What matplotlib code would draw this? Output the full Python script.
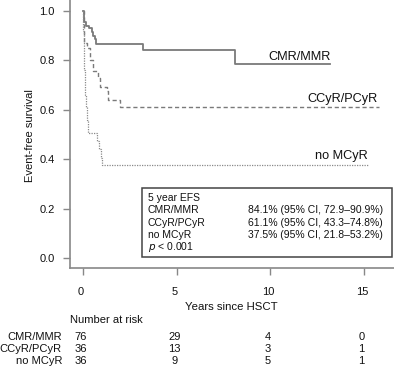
import matplotlib
matplotlib.use("Agg")
import matplotlib.pyplot as plt
from matplotlib.patches import Rectangle
from matplotlib.transforms import blended_transform_factory, ScaledTranslation

plt.rcParams['font.family'] = ['Liberation Sans', 'DejaVu Sans']

# --- Kaplan-Meier step data (time in years, survival) ---
cmr_t = [0, 0.05, 0.15, 0.3, 0.45, 0.55, 0.65, 0.7, 3.2, 8.1, 13.2]
cmr_s = [1.0, 0.955, 0.94, 0.93, 0.915, 0.90, 0.885, 0.867, 0.842, 0.785, 0.785]

ccyr_t = [0, 0.03, 0.05, 0.2, 0.37, 0.55, 0.82, 0.91, 1.27, 1.35, 1.98, 15.8]
ccyr_s = [1.0, 0.92, 0.87, 0.85, 0.80, 0.757, 0.73, 0.694, 0.674, 0.64, 0.611, 0.611]

nomcyr_t = [0, 0.02, 0.04, 0.07, 0.1, 0.16, 0.22, 0.28, 0.73, 0.85, 0.96, 1.02, 15.2]
nomcyr_s = [1.0, 0.92, 0.85, 0.76, 0.66, 0.61, 0.56, 0.507, 0.472, 0.44, 0.406, 0.378, 0.378]

groups = ["CMR/MMR", "CCyR/PCyR", "no MCyR"]
efs_text = ["84.1% (95% CI, 72.9\u201390.9%)",
            "61.1% (95% CI, 43.3\u201374.8%)",
            "37.5% (95% CI, 21.8\u201353.2%)"]

risk_times = [0, 5, 10, 15]
risk_cmr = [76, 29, 4, 0]
risk_ccyr = [36, 13, 3, 1]
risk_nomcyr = [36, 9, 5, 1]

W, H = 394, 369
fig = plt.figure(figsize=(W / 100, H / 100), dpi=100)
ax = fig.add_axes([70 / W, 1 - 268 / H, 1 - 70 / W, 268 / H])

line_col = "#7a7a7a"
ax.step(cmr_t, cmr_s, where="post", color=line_col, lw=1.3)
ax.step(ccyr_t, ccyr_s, where="post", color=line_col, lw=1.0, linestyle=(0, (3, 2)))
ax.step(nomcyr_t, nomcyr_s, where="post", color="#8a8a8a", lw=0.9, linestyle=(0, (1, 1)))

# curve labels
ax.text(cmr_t[-1], 0.80, groups[0], ha="right", va="baseline", fontsize=9.2, color="#111")
ax.text(ccyr_t[-1] - 0.1, 0.632, groups[1], ha="right", va="baseline", fontsize=9.2, color="#111")
ax.text(nomcyr_t[-1], 0.399, groups[2], ha="right", va="baseline", fontsize=9.2, color="#111")

ax.set_xlim(-0.7, 16.6)
ax.set_ylim(-0.04, 1.044)
ax.set_xticks([0, 5, 10, 15])
ax.set_yticks([0.0, 0.2, 0.4, 0.6, 0.8, 1.0])
ax.set_yticklabels(["0.0", "0.2", "0.4", "0.6", "0.8", "1.0"])
ax.spines["top"].set_visible(False)
ax.spines["right"].set_visible(False)
for s in ["left", "bottom"]:
    ax.spines[s].set_color("#888888")
    ax.spines[s].set_linewidth(1.2)
ax.tick_params(axis="both", colors="#888888", labelcolor="#111", labelsize=8, length=5, width=1)
ax.tick_params(axis="x", pad=9)
ax.tick_params(axis="y", pad=6)
ax.patch.set_alpha(0)

# R-style labels sit a touch left of their ticks
shift = ScaledTranslation(-2 / 100, 0, fig.dpi_scale_trans)
for lab in ax.get_xticklabels():
    lab.set_transform(lab.get_transform() + shift)

fig.text(30 / W, 1 - 136 / H, "Event-free survival", rotation=90, ha="center", va="center",
         fontsize=8, color="#111")
fig.text(231 / W, 1 - 307 / H, "Years since HSCT", ha="center", va="center", fontsize=8.2, color="#111")

# EFS box
fig.add_artist(Rectangle((141.7 / W, 1 - 257.3 / H), (392.3 - 141.7) / W, (257.3 - 188.3) / H,
                         transform=fig.transFigure, fill=False, edgecolor="#444444", lw=1.1))
box_y = [198, 210.3, 222.6, 234.9, 247.2]
fig.text(148 / W, 1 - box_y[0] / H, "5 year EFS", ha="left", va="center", fontsize=7.5, color="#111")
for i, g in enumerate(groups):
    fig.text(148 / W, 1 - box_y[i + 1] / H, g, ha="left", va="center", fontsize=7.5, color="#111")
    fig.text(248 / W, 1 - box_y[i + 1] / H, efs_text[i], ha="left", va="center", fontsize=7.5, color="#111")
fig.text(148 / W, 1 - box_y[4] / H, r"$p$ < 0.001", ha="left", va="center", fontsize=7.5, color="#111")

# number at risk table
fig.text(70.5 / W, 1 - 320 / H, "Number at risk", ha="left", va="center", fontsize=8, color="#111")
trans = blended_transform_factory(ax.transData, fig.transFigure)
num_shift = ScaledTranslation(-2.5 / 100, 0, fig.dpi_scale_trans)
rows = [risk_cmr, risk_ccyr, risk_nomcyr]
row_y = [336.7, 349, 360.9]
for g, vals, yy in zip(groups, rows, row_y):
    fig.text(62 / W, 1 - yy / H, g, ha="right", va="center", fontsize=8, color="#111")
    for t, v in zip(risk_times, vals):
        ax.text(t, 1 - yy / H, str(v), transform=trans + num_shift, ha="center", va="center",
                fontsize=8, color="#111", clip_on=False)

fig.savefig("out.png", dpi=100)
